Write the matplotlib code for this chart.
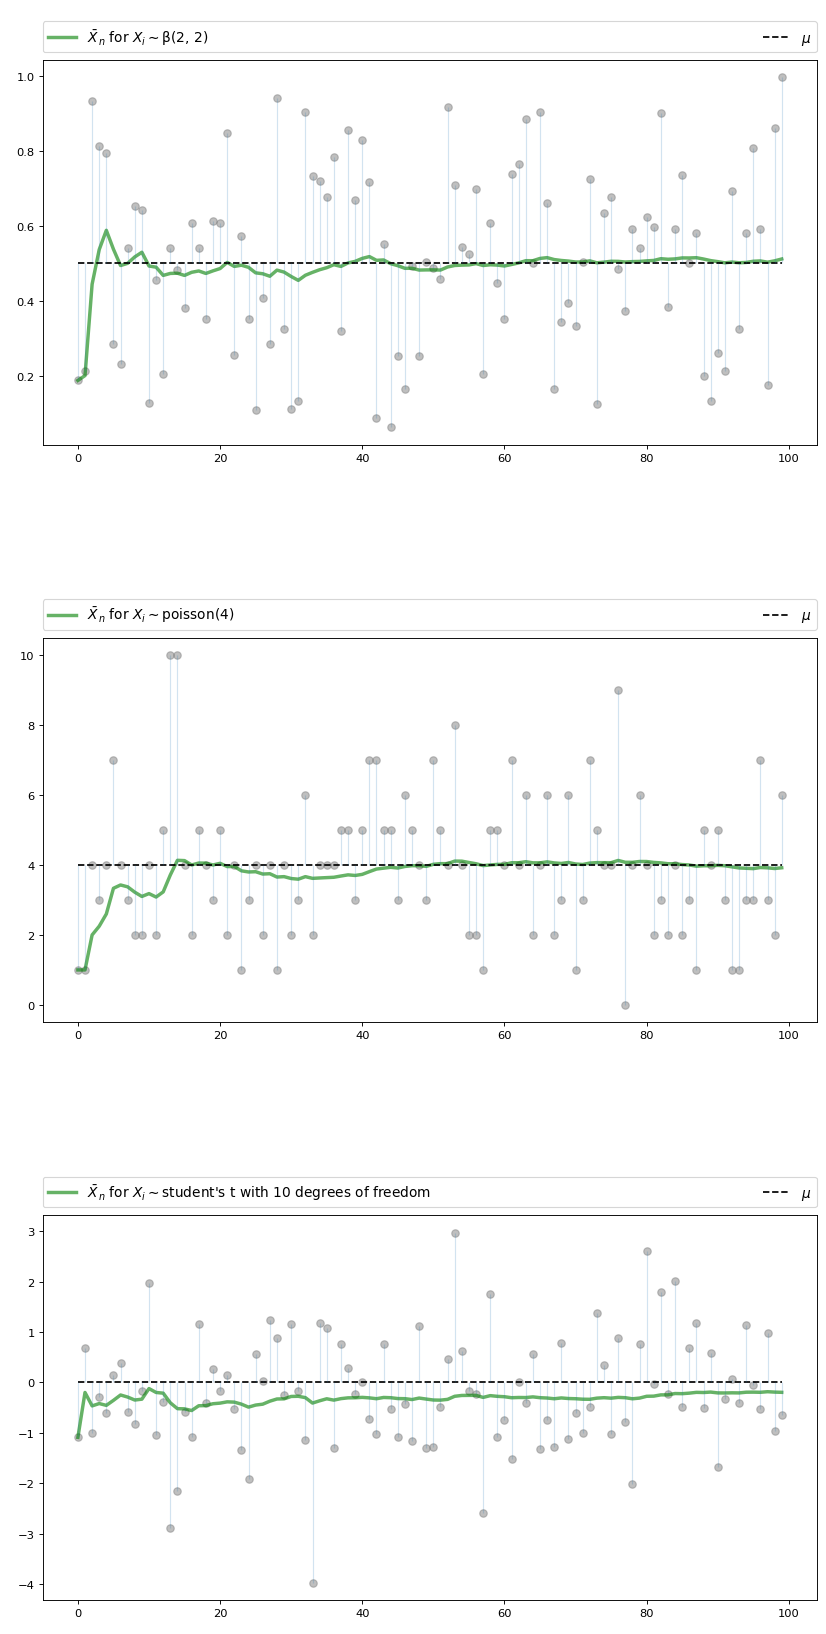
import matplotlib.pyplot as plt
import numpy as np

# draws, 100 each
beta_draws = [0.187, 0.213, 0.931, 0.813, 0.793, 0.285, 0.232, 0.541, 0.653, 0.641,
              0.126, 0.454, 0.204, 0.541, 0.481, 0.379, 0.608, 0.541, 0.352, 0.611,
              0.608, 0.846, 0.254, 0.571, 0.352, 0.107, 0.408, 0.285, 0.939, 0.324,
              0.112, 0.133, 0.904, 0.731, 0.720, 0.677, 0.784, 0.320, 0.856, 0.667,
              0.829, 0.717, 0.086, 0.552, 0.062, 0.251, 0.164, 0.491, 0.253, 0.502,
              0.486, 0.457, 0.915, 0.707, 0.544, 0.523, 0.697, 0.204, 0.608, 0.446,
              0.350, 0.737, 0.764, 0.883, 0.501, 0.904, 0.660, 0.164, 0.342, 0.393,
              0.331, 0.504, 0.725, 0.124, 0.633, 0.677, 0.484, 0.371, 0.590, 0.540,
              0.624, 0.597, 0.899, 0.384, 0.592, 0.736, 0.501, 0.579, 0.198, 0.133,
              0.259, 0.211, 0.691, 0.325, 0.579, 0.808, 0.590, 0.176, 0.859, 0.995]

poisson_draws = [1, 1, 4, 3, 4, 7, 4, 3, 2, 2,
                 4, 2, 5, 10, 10, 4, 2, 5, 4, 3,
                 5, 2, 4, 1, 3, 4, 2, 4, 1, 4,
                 2, 3, 6, 2, 4, 4, 4, 5, 5, 3,
                 5, 7, 7, 5, 5, 3, 6, 5, 4, 3,
                 7, 5, 4, 8, 4, 2, 2, 1, 5, 5,
                 4, 7, 4, 6, 2, 4, 6, 2, 3, 6,
                 1, 3, 7, 5, 4, 4, 9, 0, 4, 6,
                 4, 2, 3, 2, 4, 2, 3, 1, 5, 4,
                 5, 3, 1, 1, 3, 3, 7, 3, 2, 6]

t_draws = [-1.09, 0.69, -1.00, -0.28, -0.60, 0.14, 0.39, -0.58, -0.82, -0.18,
           1.98, -1.05, -0.38, -2.89, -2.15, -0.58, -1.09, 1.15, -0.40, 0.27,
           -0.17, 0.15, -0.52, -1.35, -1.91, 0.57, 0.03, 1.23, 0.89, -0.25,
           1.15, -0.18, -1.15, -3.97, 1.17, 1.07, -1.31, 0.77, 0.29, -0.24,
           0.01, -0.72, -1.02, 0.77, -0.52, -1.08, -0.42, -1.17, 1.11, -1.31,
           -1.29, -0.48, 0.46, 2.97, 0.63, -0.18, -0.24, -2.60, 1.76, -1.09,
           -0.75, -1.51, 0.01, -0.40, 0.56, -1.33, -0.75, -1.29, 0.79, -1.13,
           -0.60, -1.01, -0.48, 1.38, 0.35, -1.03, 0.89, -0.79, -2.01, 0.77,
           2.60, -0.03, 1.80, -0.23, 2.02, -0.48, 0.69, 1.17, -0.50, 0.59,
           -1.68, -0.32, 0.07, -0.40, 1.13, -0.06, -0.52, 0.97, -0.97, -0.64]

names = ['β(2, 2)', 'poisson(4)', "student's t with 10 degrees of freedom"]
means = [0.5, 4.0, 0.0]
draws = [beta_draws, poisson_draws, t_draws]

legend_args = {'ncol': 2,
               'bbox_to_anchor': (0., 1.02, 1., .102),
               'loc': 3,
               'mode': 'expand',
               'borderaxespad': 0.}


def plot_panel(ax, name, data, m):
	data = np.array(data, dtype=float)
	n = len(data)
	x = list(range(n))

	# running sample mean
	sample_mean = np.cumsum(data) / np.arange(1, n + 1)

	ax.plot(x, data, 'o', color='grey', alpha=0.5, markersize=6.5)
	axlabel = r'$\bar X_n$ for $X_i \sim$' + name
	ax.plot(x, sample_mean, 'g-', lw=3, alpha=0.6, label=axlabel)
	ax.plot(x, [m] * n, 'k--', lw=1.5, label=r'$\mu$')
	ax.vlines(x, m, data, lw=1.0, alpha=0.2)
	ax.legend(**legend_args, fontsize=12)


fig, axes = plt.subplots(3, 1, figsize=(10, 19.794))
fig.subplots_adjust(left=0.0517, right=0.989, bottom=0.0208, top=0.9627, hspace=0.501)

for ax, name, data, m in zip(axes, names, draws, means):
	plot_panel(ax, name, data, m)

plt.savefig('out.png', dpi=82.6)
